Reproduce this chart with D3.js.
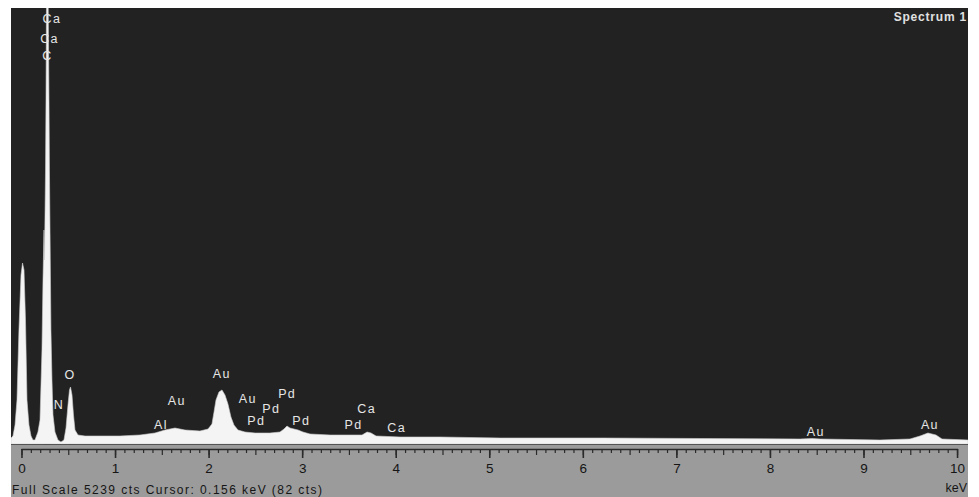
<!DOCTYPE html>
<html><head><meta charset="utf-8">
<script src="https://cdn.jsdelivr.net/npm/d3@7"></script>
<style>
html,body{margin:0;padding:0;background:#fff;}
svg{display:block;font-family:"Liberation Sans",Arial,sans-serif;}
</style></head>
<body>
<script>
// Spectrum samples: energy (keV) and counts
const energy = [-0.112,-0.091,-0.069,-0.048,-0.027,-0.005,0.011,0.027,0.043,0.059,0.080,0.102,0.123,0.144,0.176,0.198,0.219,0.230,0.241,0.246,0.257,0.262,0.267,0.276,0.286,0.294,0.299,0.308,0.315,0.326,0.337,0.358,0.390,0.422,0.454,0.476,0.497,0.513,0.524,0.540,0.556,0.572,0.604,0.679,0.839,1.053,1.267,1.427,1.534,1.641,1.748,1.908,1.994,2.036,2.058,2.079,2.111,2.143,2.175,2.207,2.239,2.271,2.314,2.389,2.496,2.656,2.763,2.806,2.838,2.870,2.913,2.956,3.009,3.084,3.298,3.512,3.640,3.694,3.736,3.790,4.047,4.474,5.116,6.185,7.254,8.323,8.451,8.537,9.176,9.497,9.604,9.689,9.775,9.839,10.117];
const counts = [72,96,228,529,1370,2031,2175,2091,1490,529,228,96,48,48,144,288,1130,1971,2571,2211,3292,4134,5239,9000,5239,4134,3292,2211,1370,769,348,144,48,24,48,192,469,649,685,589,348,168,108,96,96,96,108,132,168,192,168,156,180,240,385,529,625,649,589,481,324,228,168,144,132,132,144,180,216,192,180,168,144,120,108,108,108,144,132,96,84,84,72,72,66,60,66,60,48,60,96,132,108,60,48];
const peakLabels = ["Ca","Ca","C","N","O","Al","Au","Au","Au","Pd","Pd","Pd","Pd","Pd","Ca","Ca","Au","Au"];
const peakLabelKeV = [0.326,0.30,0.278,0.40,0.52,1.49,1.66,2.14,2.42,2.51,2.67,2.84,2.99,3.55,3.69,4.01,8.49,9.71];
const peakLabelCounts = [5059,4818,4614,425,785,180,465,790,495,232,370,555,232,180,375,140,100,185];
const majorTicks = [0,1,2,3,4,5,6,7,8,9,10];
const minorTicks = d3.range(0,101).map(i=>i/10);
const fullScale = 5239;
const footerText = "Full Scale 5239 cts   Cursor: 0.156 keV (82 cts)";
const unitText = "keV";
const titleText = "Spectrum 1";

const W=979,H=497;
const L=11,R=968,T=8,B=444;
const svg=d3.select("body").append("svg").attr("width",W).attr("height",H);
svg.append("rect").attr("width",W).attr("height",H).attr("fill","#fff");

const x=d3.scaleLinear().domain([-0.112,10.117]).range([L,R]);
const y=d3.scaleLinear().domain([0,fullScale]).range([B,T]);

// panel background
svg.append("rect").attr("x",L).attr("y",T).attr("width",R-L).attr("height",B-T+1).attr("fill","#222222");
svg.append("defs").append("clipPath").attr("id","clip").append("rect")
  .attr("x",L).attr("y",T).attr("width",R-L).attr("height",B-T+1);

const data=energy.map((e,i)=>({e,c:counts[i]})).sort((a,b)=>a.e-b.e);
const area=d3.area().x(d=>x(d.e)).y0(y(0)).y1(d=>y(d.c)).curve(d3.curveLinear);
svg.append("path").datum(data).attr("clip-path","url(#clip)")
  .attr("d",area).attr("fill","#f4f4f4").attr("stroke","#cfcfcf").attr("stroke-width",0.6);

// peak labels
svg.append("g").selectAll("text").data(peakLabels).join("text")
  .attr("x",(d,i)=>x(peakLabelKeV[i]))
  .attr("y",(d,i)=>y(peakLabelCounts[i]))
  .attr("text-anchor","middle")
  .attr("font-size",12.5).attr("letter-spacing",1.4)
  .attr("fill","#e6e6e6").text(d=>d);

svg.append("text").attr("x",R-1).attr("y",21).attr("text-anchor","end")
  .attr("font-size",12).attr("font-weight","bold").attr("letter-spacing",0.8)
  .attr("fill","#e0e0e0").text(titleText);

// gray band
svg.append("rect").attr("x",L).attr("y",B+1).attr("width",R-L).attr("height",H-B-1).attr("fill","#9b9b9b");

const axY=449;
const gMinor=svg.append("g").attr("transform",`translate(0,${axY})`)
  .call(d3.axisBottom(x).tickValues(minorTicks).tickSize(4).tickFormat(""));
gMinor.select(".domain").remove();
gMinor.selectAll("line").attr("stroke","#2a2a2a").attr("stroke-width",1.2);
gMinor.selectAll(".tick").filter(d=>Math.abs(d*2-Math.round(d*2))<1e-6)
  .select("line").attr("y2",6);

const gMajor=svg.append("g").attr("transform",`translate(0,${axY})`)
  .call(d3.axisBottom(x).tickValues(majorTicks).tickSize(9).tickPadding(5).tickFormat(d3.format("d")));
gMajor.select(".domain").attr("d",`M${x(0)},0.5H${x(10)+1}`).attr("stroke","#2a2a2a").attr("stroke-width",1.6);
gMajor.selectAll("line").attr("stroke","#2a2a2a").attr("stroke-width",1.6);
gMajor.selectAll("text").attr("font-size",13.5).attr("fill","#151515")
  .attr("font-family","'Liberation Sans',Arial,sans-serif");

svg.append("text").attr("x",12).attr("y",493.5).attr("font-size",12).attr("letter-spacing",1.45)
  .attr("fill","#151515").text(footerText);
svg.append("text").attr("x",R-1).attr("y",492).attr("text-anchor","end").attr("font-size",12.5)
  .attr("fill","#151515").text(unitText);
</script>
</body></html>
